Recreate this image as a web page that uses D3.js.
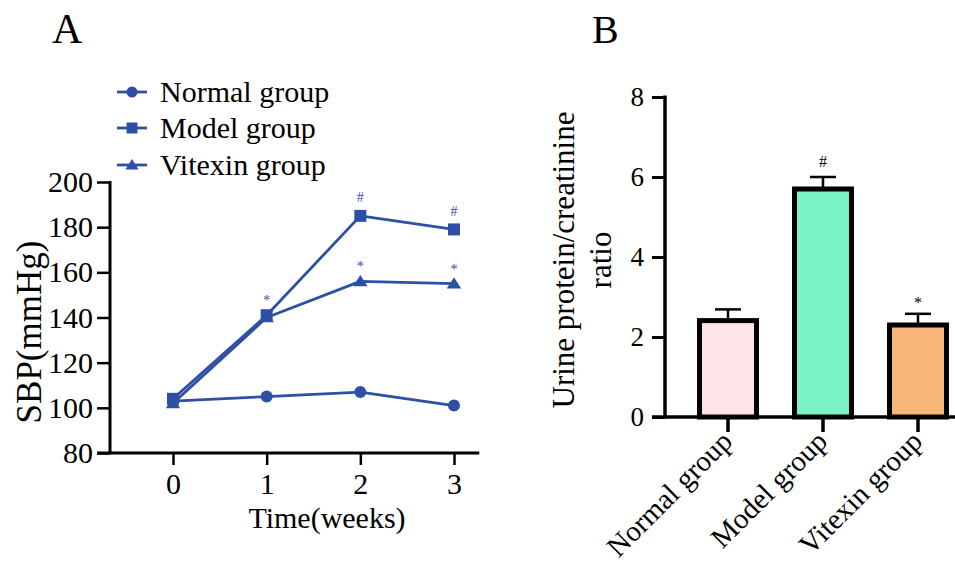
<!DOCTYPE html>
<html>
<head>
<meta charset="utf-8">
<script src="https://cdn.jsdelivr.net/npm/d3@7"></script>
<style>
  html, body { margin: 0; padding: 0; background: #fff; }
  svg { display: block; font-family: "Liberation Serif", "Times New Roman", serif; }
</style>
</head>
<body>
<svg id="chart" width="955" height="563"></svg>
<script>
// ---- data: panel A (SBP over time) ----
const weeks = [0, 1, 2, 3];
const normalSBP  = [103, 105, 107, 101];
const modelSBP   = [104, 141, 185, 179];
const vitexinSBP = [102, 140, 156, 155];
const seriesNames = ['Normal group', 'Model group', 'Vitexin group'];
const seriesSymbols = ['circle', 'square', 'triangle'];
const sbpTicks = [80, 100, 120, 140, 160, 180, 200];
// significance marks: [week, series index, symbol]
const sbpMarks = [[1, 2, '*'], [2, 1, '#'], [2, 2, '*'], [3, 1, '#'], [3, 2, '*']];

// ---- data: panel B (urine protein/creatinine) ----
const groups = ['Normal group', 'Model group', 'Vitexin group'];
const ratioMean = [2.41, 5.7, 2.3];
const ratioSD   = [0.28, 0.3, 0.28];
const ratioMarks = ['', '#', '*'];
const barColors = ['#fde4e7', '#79f2c5', '#f7b678'];
const ratioTicks = [0, 2, 4, 6, 8];

const BLUE = '#2d50a6';
const svg = d3.select('#chart');

// panel letters
svg.append('text').attr('x', 52).attr('y', 43).attr('font-size', 42).text('A');
svg.append('text').attr('x', 592).attr('y', 43).attr('font-size', 40).text('B');

// =========================== PANEL A ===========================
const xA = d3.scaleLinear().domain([0, 3]).range([173, 454]);
const yA = d3.scaleLinear().domain([80, 200]).range([453, 182]);
const gA = svg.append('g');

gA.append('g')
  .attr('transform', 'translate(110,0)')
  .call(d3.axisLeft(yA).tickValues(sbpTicks).tickSize(13).tickSizeOuter(0).tickPadding(4))
  .call(g => g.select('.domain').remove())
  .call(g => g.selectAll('.tick line').attr('stroke', '#000').attr('stroke-width', 2.5))
  .call(g => g.selectAll('.tick text').attr('font-size', 30).attr('font-family', 'Liberation Serif').attr('fill', '#000'));
gA.append('line').attr('x1', 110).attr('x2', 110).attr('y1', yA(200) - 1).attr('y2', yA(80))
  .attr('stroke', '#000').attr('stroke-width', 3);

gA.append('g')
  .attr('transform', `translate(0,${yA(80)})`)
  .call(d3.axisBottom(xA).tickValues(weeks).tickFormat(d3.format('d')).tickSize(12).tickSizeOuter(0).tickPadding(8))
  .call(g => g.select('.domain').remove())
  .call(g => g.selectAll('.tick line').attr('stroke', '#000').attr('stroke-width', 2.5))
  .call(g => g.selectAll('.tick text').attr('font-size', 30).attr('font-family', 'Liberation Serif').attr('fill', '#000'));
gA.append('line').attr('x1', xA(-0.81)).attr('x2', xA(3.27)).attr('y1', yA(80)).attr('y2', yA(80))
  .attr('stroke', '#000').attr('stroke-width', 3);

gA.append('text').attr('x', 327).attr('y', 528).attr('text-anchor', 'middle')
  .attr('font-size', 30).text('Time(weeks)');
gA.append('text').attr('transform', 'translate(41,332) rotate(-90)').attr('text-anchor', 'middle')
  .attr('font-size', 35).text('SBP(mmHg)');

const sbpSeries = [normalSBP, modelSBP, vitexinSBP];
const line = d3.line().x((d, i) => xA(weeks[i])).y(d => yA(d));

function marker(sel, type, x, y, s) {
  if (type === 'circle') {
    sel.append('circle').attr('cx', x).attr('cy', y).attr('r', s / 2).attr('fill', BLUE);
  } else if (type === 'square') {
    sel.append('rect').attr('x', x - s / 2).attr('y', y - s / 2).attr('width', s).attr('height', s).attr('fill', BLUE);
  } else {
    const h = s * 0.9;
    sel.append('path').attr('d', `M${x},${y - h * 0.6}L${x + s * 0.6},${y + h * 0.45}L${x - s * 0.6},${y + h * 0.45}Z`).attr('fill', BLUE);
  }
}

sbpSeries.forEach((vals, si) => {
  gA.append('path').attr('d', line(vals)).attr('fill', 'none')
    .attr('stroke', BLUE).attr('stroke-width', 2.8).attr('stroke-linejoin', 'round');
});
sbpSeries.forEach((vals, si) => {
  vals.forEach((v, i) => marker(gA, seriesSymbols[si], xA(weeks[i]), yA(v), 12));
});

sbpMarks.forEach(([w, si, sym]) => {
  const v = sbpSeries[si][weeks.indexOf(w)];
  const top = w === 1 ? Math.max(modelSBP[1], vitexinSBP[1]) : v;
  gA.append('text').attr('x', xA(w)).attr('y', yA(top) - (sym === '#' ? 13.5 : 10))
    .attr('text-anchor', 'middle').attr('font-size', 14).attr('fill', BLUE).text(sym);
});

// legend
const legY = [92, 128, 165];
seriesNames.forEach((name, i) => {
  gA.append('line').attr('x1', 117).attr('x2', 147).attr('y1', legY[i]).attr('y2', legY[i])
    .attr('stroke', BLUE).attr('stroke-width', 2.8);
  marker(gA, seriesSymbols[i], 132, legY[i], 11);
  gA.append('text').attr('x', 160).attr('y', legY[i] + 10).attr('font-size', 30).text(name);
});

// =========================== PANEL B ===========================
const xB = d3.scaleBand().domain(groups).range([680.5, 965.5]).paddingInner(0.4).paddingOuter(0.2);
const yB = d3.scaleLinear().domain([0, 8]).range([417, 97]);
const gB = svg.append('g');

gB.append('g')
  .attr('transform', 'translate(665,0)')
  .call(d3.axisLeft(yB).tickValues(ratioTicks).tickSize(13).tickSizeOuter(0).tickPadding(8))
  .call(g => g.select('.domain').remove())
  .call(g => g.selectAll('.tick line').attr('stroke', '#000').attr('stroke-width', 3))
  .call(g => g.selectAll('.tick text').attr('font-size', 27).attr('font-family', 'Liberation Serif').attr('fill', '#000'));
gB.append('line').attr('x1', 665).attr('x2', 665).attr('y1', yB(8) - 1.5).attr('y2', yB(0))
  .attr('stroke', '#000').attr('stroke-width', 3.5);

// bars
groups.forEach((g, i) => {
  const x0 = xB(g), bw = xB.bandwidth(), cx = x0 + bw / 2;
  const top = yB(ratioMean[i]), cap = yB(ratioMean[i] + ratioSD[i]);
  gB.append('line').attr('x1', cx).attr('x2', cx).attr('y1', top).attr('y2', cap)
    .attr('stroke', '#000').attr('stroke-width', 2.5);
  gB.append('line').attr('x1', cx - 13).attr('x2', cx + 13).attr('y1', cap).attr('y2', cap)
    .attr('stroke', '#000').attr('stroke-width', 2.5);
  gB.append('rect').attr('x', x0).attr('y', top).attr('width', bw).attr('height', yB(0) - top)
    .attr('fill', barColors[i]).attr('stroke', '#000').attr('stroke-width', 5);
  if (ratioMarks[i]) {
    gB.append('text').attr('x', cx).attr('y', cap - (ratioMarks[i] === '#' ? 10 : 6))
      .attr('text-anchor', 'middle').attr('font-size', 16).text(ratioMarks[i]);
  }
});

gB.append('g')
  .attr('transform', `translate(0,${yB(0)})`)
  .call(d3.axisBottom(xB).tickSize(15).tickSizeOuter(0))
  .call(g => g.select('.domain').remove())
  .call(g => g.selectAll('.tick line').attr('stroke', '#000').attr('stroke-width', 3.5))
  .call(g => g.selectAll('.tick text')
    .attr('font-size', 29).attr('font-family', 'Liberation Serif').attr('fill', '#000')
    .attr('text-anchor', 'end').attr('y', 0).attr('dy', 0)
    .attr('transform', 'translate(6,26) rotate(-45)'));
gB.append('line').attr('x1', 652).attr('x2', 955).attr('y1', yB(0)).attr('y2', yB(0))
  .attr('stroke', '#000').attr('stroke-width', 3.5);

gB.append('text').attr('transform', 'translate(574,260) rotate(-90)').attr('text-anchor', 'middle')
  .attr('font-size', 31).text('Urine protein/creatinine');
gB.append('text').attr('transform', 'translate(611,260) rotate(-90)').attr('text-anchor', 'middle')
  .attr('font-size', 31).text('ratio');
</script>
</body>
</html>
